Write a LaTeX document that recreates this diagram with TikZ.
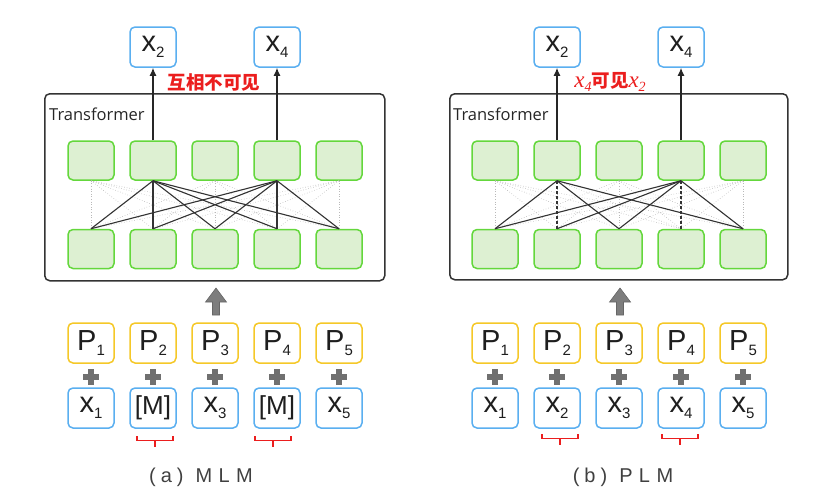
\documentclass[tikz,border=0pt]{standalone}
\usepackage{fontspec}
\setmainfont{Liberation Sans}
\newfontfamily\cjk{Noto Sans CJK SC}
\newfontfamily\tfont{Open Sans}
\newfontfamily\serif{Liberation Serif}
\newfontfamily\capfont[LetterSpace=32]{Liberation Sans}
\usetikzlibrary{arrows.meta}

\definecolor{gbord}{RGB}{100,215,60}
\definecolor{gfill}{RGB}{221,240,210}
\definecolor{bbord}{RGB}{90,175,240}
\definecolor{ybord}{RGB}{245,200,40}
\definecolor{redl}{RGB}{235,30,30}
\definecolor{plusg}{RGB}{112,112,112}
\definecolor{arrg}{RGB}{125,125,125}
\definecolor{txt}{RGB}{30,30,30}

\newcommand\tk[2]{\fontsize{29}{29}\selectfont #1\raisebox{-5.5pt}{\fontsize{15}{15}\selectfont #2}}
\newcommand\mx[1]{{\serif\itshape\fontsize{23}{23}\selectfont x}\raisebox{-4pt}{\serif\itshape\fontsize{14}{14}\selectfont #1}}

\tikzset{
  box/.style={rounded corners=5pt, line width=1.5pt, minimum width=46pt, minimum height=40pt, inner sep=0pt, fill=white, text=txt},
  gbox/.style={box, draw=gbord, fill=gfill, minimum height=39pt},
  bbox/.style={box, draw=bbord},
  ybox/.style={box, draw=ybord},
  faint/.style={draw=gray!55, dotted, line width=0.6pt},
  link/.style={draw=black!80, line width=1.1pt},
  dlink/.style={link, dashed, dash pattern=on 3pt off 2pt},
  outarrow/.style={draw=black!85, line width=1.3pt, -{Latex[length=8pt,width=7pt]}},
  tbox/.style={draw=black!80, line width=1.5pt, rounded corners=5pt},
  plusmark/.style={draw=plusg, line width=5.5pt},
  bigarrow/.style={fill=arrg, draw=black!60, line width=0.6pt},
  brace/.style={draw=redl, line width=1.3pt},
  redlabel/.style={text=redl, inner sep=0pt},
  caption/.style={text=black!75, font=\capfont\fontsize{20}{20}\selectfont, inner sep=0pt},
  tlabel/.style={anchor=west, inner sep=0pt, text=black!85, font=\tfont\fontsize{16.5}{16.5}\selectfont}
}

\begin{document}
\begin{tikzpicture}[x=1pt,y=-1pt]
\useasboundingbox (0,0) rectangle (821,501);

% ================= (a) MLM =================
\node[tbox, minimum width=340pt, minimum height=187pt, anchor=north west] (atr) at (44,93) {};
\node[tlabel] (atl) at (49,114) {Transformer};

\foreach \i/\x in {1/91,2/153,3/215,4/277,5/339}{
  \node[gbox] (at\i) at (\x,160.5) {};
  \node[gbox] (ab\i) at (\x,249) {};
  \node[ybox] (ap\i) at (\x,343) {\tk{P}{\i}};
  \draw[plusmark] (\x-8,377) -- (\x+8,377) (\x,369) -- (\x,385);
}
\node[bbox] (ax1) at (91,408) {\tk{x}{1}};
\node[bbox] (ax2) at (153,408) {\fontsize{26}{26}\selectfont [M]};
\node[bbox] (ax3) at (215,408) {\tk{x}{3}};
\node[bbox] (ax4) at (277,408) {\fontsize{26}{26}\selectfont [M]};
\node[bbox] (ax5) at (339,408) {\tk{x}{5}};

\foreach \i in {1,...,5}{
  \foreach \j in {1,...,5}{
    \draw[faint] (at\i.south) -- (ab\j.north);
  }
}
\foreach \j in {1,...,5}{
  \draw[link] (at2.south) -- (ab\j.north);
  \draw[link] (at4.south) -- (ab\j.north);
}

\node[bbox] (ao2) at (153,47) {\tk{x}{2}};
\node[bbox] (ao4) at (277,47) {\tk{x}{4}};
\draw[outarrow] (at2.north) -- (ao2.south);
\draw[outarrow] (at4.north) -- (ao4.south);
\node[redlabel, font=\cjk\bfseries\fontsize{18.5}{18.5}\selectfont] (alab) at (214,82) {互相不可见};

\coordinate (aarr) at (216,315);
\draw[bigarrow] (aarr) ++(-3.5,0) -- ++(0,-13) -- ++(-7,0) -- ++(10.5,-14) -- ++(10.5,14) -- ++(-7,0) -- ++(0,13) -- cycle;

\foreach \x in {155,273}{
  \draw[brace] (\x-18,436) -- (\x-18,440.5) -- (\x+18,440.5) -- (\x+18,436) (\x,440.5) -- (\x,447);
}
\node[caption] (acap) at (201,477) {(\hspace{5pt}a\hspace{5pt})\hspace{12pt}MLM};

% ================= (b) PLM =================
\node[tbox, minimum width=338pt, minimum height=186pt, anchor=north west] (btr) at (449,93) {};
\node[tlabel] (btl) at (453,114) {Transformer};

\foreach \i/\x in {1/495,2/557,3/619,4/681,5/743}{
  \node[gbox] (bt\i) at (\x,160.5) {};
  \node[gbox] (bb\i) at (\x,249) {};
  \node[ybox] (bp\i) at (\x,343) {\tk{P}{\i}};
  \node[bbox] (bx\i) at (\x,408) {\tk{x}{\i}};
  \draw[plusmark] (\x-8,377) -- (\x+8,377) (\x,369) -- (\x,385);
}

\foreach \i in {1,...,5}{
  \foreach \j in {1,...,5}{
    \draw[faint] (bt\i.south) -- (bb\j.north);
  }
}
\foreach \j in {1,3,5}{
  \draw[link] (bt2.south) -- (bb\j.north);
}
\draw[dlink] (bt2.south) -- (bb2.north);
\foreach \j in {1,2,3,5}{
  \draw[link] (bt4.south) -- (bb\j.north);
}
\draw[dlink] (bt4.south) -- (bb4.north);

\node[bbox] (bo2) at (557,47) {\tk{x}{2}};
\node[bbox] (bo4) at (681,47) {\tk{x}{4}};
\draw[outarrow] (bt2.north) -- (bo2.south);
\draw[outarrow] (bt4.north) -- (bo4.south);
\node[redlabel, font=\fontsize{19.5}{19.5}\selectfont] (blab) at (610,82) {\mx{4}{\cjk\bfseries\fontsize{18.5}{18.5}\selectfont 可见}\mx{2}};

\coordinate (barr) at (620,315);
\draw[bigarrow] (barr) ++(-3.5,0) -- ++(0,-13) -- ++(-7,0) -- ++(10.5,-14) -- ++(10.5,14) -- ++(-7,0) -- ++(0,13) -- cycle;

\foreach \x in {560,680}{
  \draw[brace] (\x-18,434) -- (\x-18,438.5) -- (\x+18,438.5) -- (\x+18,434) (\x,438.5) -- (\x,445);
}
\node[caption] (bcap) at (623,477) {(\hspace{5pt}b\hspace{5pt})\hspace{12pt}PLM};
\end{tikzpicture}
\end{document}
